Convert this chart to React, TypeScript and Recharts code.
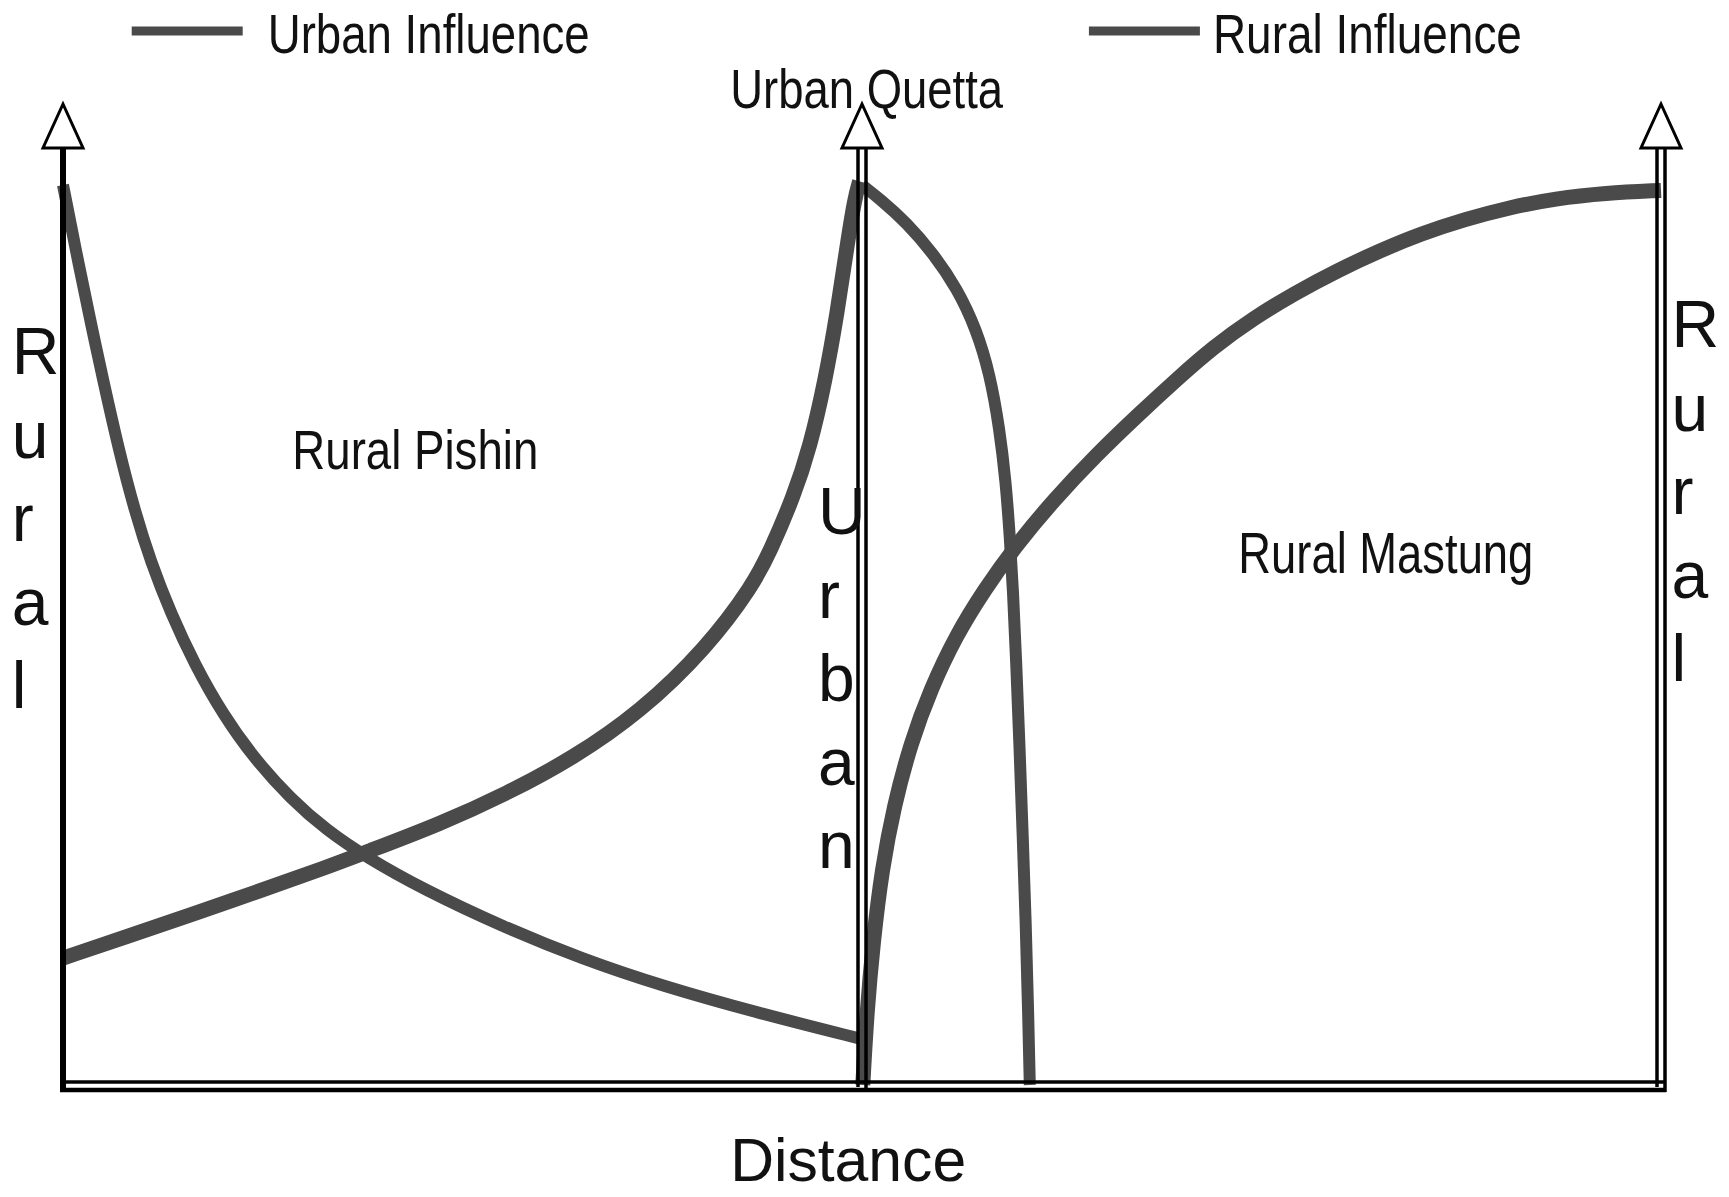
import { LineChart, Line, XAxis, YAxis, ReferenceLine, ReferenceDot } from 'recharts';

// Distance runs 0..200 (Pishin at 0, Quetta at 100, Mastung at 200), influence 0..100
const urbanPishinDistance = [0, 2, 3.6, 5, 7, 9, 11, 13.5, 16.5, 20, 24, 28.5, 33, 38, 45, 55, 65, 75, 87, 100];
const urbanPishinInfluence = [100, 91, 84.2, 78.4, 70.5, 63.7, 58.1, 52.4, 46.7, 41.2, 36.2, 31.8, 28.3, 25.3, 21.8, 17.6, 14.0, 11.0, 8.0, 5.1];

const ruralPishinDistance = [0, 8, 16.3, 24.7, 33, 37.7, 47.2, 55.6, 63.8, 72.2, 80.6, 86.4, 88.5, 91.4, 93.5, 95.4, 96.9, 98.1, 99.1, 99.7];
const ruralPishinInfluence = [14.1, 16.5, 19.0, 21.6, 24.2, 25.8, 29.0, 32.4, 36.3, 41.4, 48.6, 55.6, 59.3, 65.3, 70.9, 78.3, 85.8, 93.1, 98.6, 100.4];

const urbanQuettaDistance = [100, 102.3, 105.6, 108.9, 111.9, 114.3, 116.0, 117.2, 118.0, 118.5, 118.9, 119.3, 119.7, 120.1, 120.5, 120.8, 121.0];
const urbanQuettaInfluence = [100, 98.4, 95.8, 92.4, 88.5, 84.0, 79.0, 73.0, 67.0, 61.0, 55.0, 47.0, 38.0, 28.0, 18.0, 8.0, 0];

const ruralMastungDistance = [100.1, 100.6, 101.4, 102.5, 104.0, 106.1, 108.6, 111.8, 115.3, 119.3, 124.0, 129.3, 134.6, 139.5, 144.0, 149.0, 154.2, 159.5, 164.8, 170.0, 175.5, 181.0, 186.8, 193.0, 200];
const ruralMastungInfluence = [0, 8, 16, 24, 31, 38, 44, 50, 55, 60, 65, 70, 74.5, 78.5, 82, 85.2, 88, 90.5, 92.7, 94.6, 96.2, 97.5, 98.5, 99.1, 99.4];

const legendLabels = ['Urban Influence', 'Rural Influence'];
const placeLabels = ['Urban Quetta', 'Rural Pishin', 'Rural Mastung'];
const verticalWords = ['Rural', 'Urban', 'Rural'];
const xAxisLabel = 'Distance';

const LINE_COLOR = '#4a4a4a';
const FONT = '"Liberation Sans", Arial, sans-serif';

const toPoints = (xs: number[], ys: number[]) => xs.map((x, i) => ({ x, y: ys[i] }));

const urbanPishin = toPoints(urbanPishinDistance, urbanPishinInfluence);
const ruralPishin = toPoints(ruralPishinDistance, ruralPishinInfluence);
const urbanQuetta = toPoints(urbanQuettaDistance, urbanQuettaInfluence);
const ruralMastung = toPoints(ruralMastungDistance, ruralMastungInfluence);

// plain text anchored at a data position
const textShape = (label: string, size: number, length: number) => (p: any) => (
  <text
    x={p.cx}
    y={p.cy}
    fontFamily={FONT}
    fontSize={size}
    fill="#111"
    textLength={length}
    lengthAdjust="spacingAndGlyphs"
  >
    {label}
  </text>
);

// a word written downwards, one letter per row
const verticalShape = (word: string) => (p: any) => (
  <text x={p.cx} y={p.cy} fontFamily={FONT} fontSize={66} fill="#111">
    {word.split('').map((ch, i) => (
      <tspan key={i} x={p.cx} dy={i === 0 ? 0 : 83.5}>
        {ch}
      </tspan>
    ))}
  </text>
);

const legendShape = (label: string, textOffset: number, length: number) => (p: any) => (
  <g>
    <line x1={p.cx} x2={p.cx + 111} y1={p.cy} y2={p.cy} stroke={LINE_COLOR} strokeWidth={9} />
    <text
      x={p.cx + textOffset}
      y={p.cy + 22}
      fontFamily={FONT}
      fontSize={56}
      fill="#111"
      textLength={length}
      lengthAdjust="spacingAndGlyphs"
    >
      {label}
    </text>
  </g>
);

// vertical axis with a hollow arrow head, single or double shaft
const arrowAxis = (double: boolean) => (p: any) => {
  const x = p.x1;
  const top = Math.min(p.y1, p.y2);
  const bottom = Math.max(p.y1, p.y2);
  const head = 44;
  const half = 20;
  return (
    <g>
      {double ? (
        <>
          <line x1={x - 4} x2={x - 4} y1={top + head} y2={bottom + 2} stroke="#000" strokeWidth={3.5} />
          <line x1={x + 4} x2={x + 4} y1={top + head} y2={bottom + 7} stroke="#000" strokeWidth={3.5} />
        </>
      ) : (
        <line x1={x} x2={x} y1={top + head} y2={bottom + 7} stroke="#000" strokeWidth={6} />
      )}
      <polygon
        points={`${x},${top} ${x - half},${top + head} ${x + half},${top + head}`}
        fill="#fff"
        stroke="#000"
        strokeWidth={3}
      />
    </g>
  );
};

const baseAxis = (p: any) => {
  const y = p.y1;
  const left = Math.min(p.x1, p.x2);
  const right = Math.max(p.x1, p.x2);
  return (
    <g>
      <line x1={left - 3} x2={right + 4} y1={y - 3} y2={y - 3} stroke="#000" strokeWidth={3.5} />
      <line x1={left - 3} x2={right + 5} y1={y + 5} y2={y + 5} stroke="#000" strokeWidth={4.5} />
    </g>
  );
};

export default function App() {
  return (
    <div style={{ position: 'fixed', left: 0, top: 0, width: 1729, height: 1197, background: '#fff' }}>
      <LineChart width={1729} height={1197} margin={{ top: 104, right: 68, bottom: 112, left: 63 }}>
        <XAxis type="number" dataKey="x" domain={[0, 200]} hide />
        <YAxis type="number" dataKey="y" domain={[0, 109]} hide />

        <Line data={urbanPishin} dataKey="y" type="basis" stroke={LINE_COLOR} strokeWidth={12} dot={false} isAnimationActive={false} />
        <Line data={ruralPishin} dataKey="y" type="basis" stroke={LINE_COLOR} strokeWidth={15} dot={false} isAnimationActive={false} />
        <Line data={urbanQuetta} dataKey="y" type="basis" stroke={LINE_COLOR} strokeWidth={12} dot={false} isAnimationActive={false} />
        <Line data={ruralMastung} dataKey="y" type="basis" stroke={LINE_COLOR} strokeWidth={15} dot={false} isAnimationActive={false} />

        <ReferenceDot x={8.6} y={117.1} r={0} ifOverflow="visible" shape={legendShape(legendLabels[0], 136, 322)} />
        <ReferenceDot x={128.4} y={117.1} r={0} ifOverflow="visible" shape={legendShape(legendLabels[1], 124, 309)} />

        <ReferenceDot x={83.5} y={108.6} r={0} ifOverflow="visible" shape={textShape(placeLabels[0], 56, 273)} />
        <ReferenceDot x={28.7} y={68.4} r={0} ifOverflow="visible" shape={textShape(placeLabels[1], 56, 246)} />
        <ReferenceDot x={147.1} y={56.9} r={0} ifOverflow="visible" shape={textShape(placeLabels[2], 57, 295)} />
        <ReferenceDot x={83.5} y={-10.7} r={0} ifOverflow="visible" shape={textShape(xAxisLabel, 62, 236)} />

        <ReferenceDot x={-6.4} y={79.0} r={0} ifOverflow="visible" shape={verticalShape(verticalWords[0])} />
        <ReferenceDot x={94.5} y={61.2} r={0} ifOverflow="visible" shape={verticalShape(verticalWords[1])} />
        <ReferenceDot x={201.3} y={82.0} r={0} ifOverflow="visible" shape={verticalShape(verticalWords[2])} />

        <ReferenceLine y={0} shape={baseAxis} />
        <ReferenceLine x={0} shape={arrowAxis(false)} />
        <ReferenceLine x={100} shape={arrowAxis(true)} />
        <ReferenceLine x={200} shape={arrowAxis(true)} />
      </LineChart>
    </div>
  );
}
